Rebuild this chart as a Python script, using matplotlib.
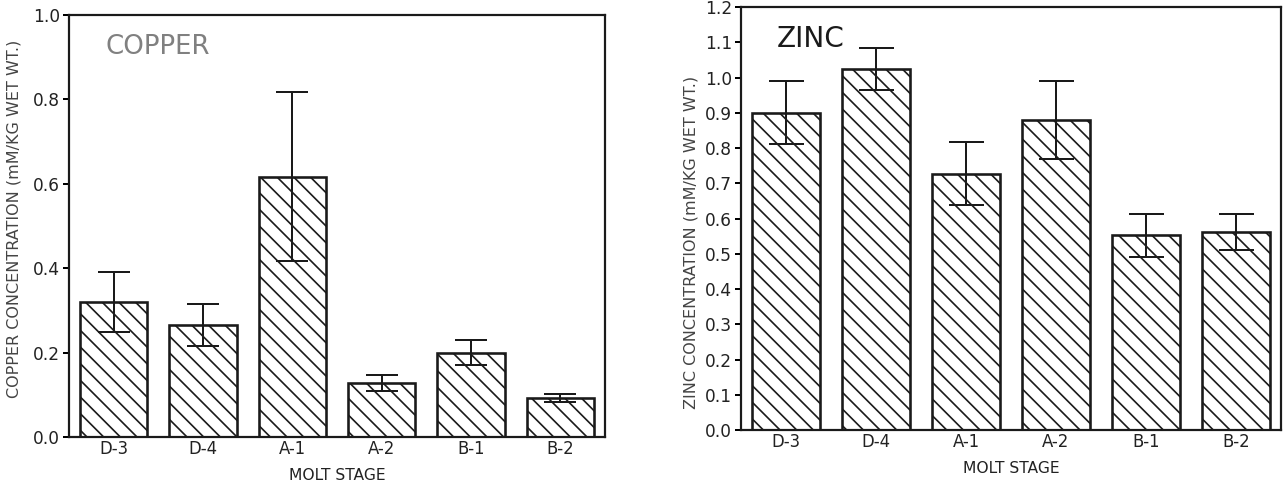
import matplotlib
matplotlib.use('Agg')
import matplotlib.pyplot as plt
import numpy as np

stages = ['D-3', 'D-4', 'A-1', 'A-2', 'B-1', 'B-2']

copper_mean = [0.32, 0.265, 0.617, 0.128, 0.20, 0.092]
copper_err = [0.07, 0.05, 0.20, 0.02, 0.03, 0.01]

zinc_mean = [0.90, 1.024, 0.727, 0.88, 0.552, 0.562]
zinc_err = [0.09, 0.06, 0.09, 0.11, 0.062, 0.05]

DPI = 100
W, H = 1287, 483
plt.rcParams['font.family'] = 'DejaVu Sans'
plt.rcParams['hatch.linewidth'] = 1.2
plt.rcParams['hatch.color'] = '#1a1a1a'


def pt(px):
    # pixel size -> points
    return px * 72.0 / DPI


fig = plt.figure(figsize=(W / DPI, H / DPI), dpi=DPI)
fig.patch.set_facecolor('white')

ax1 = fig.add_axes([69 / W, 1 - 437 / H, 536 / W, 422 / H])
ax2 = fig.add_axes([741 / W, 1 - 430 / H, 540 / W, 423 / H])


def draw(ax, means, errs, ymax, step, cap, title, title_xy, title_size, title_color):
    x = np.arange(len(stages))
    ax.bar(x, means, width=0.755, color='white', edgecolor='#1a1a1a',
           linewidth=pt(2.6), hatch='\\\\', zorder=2)
    ax.errorbar(x, means, yerr=errs, fmt='none', ecolor='#1a1a1a',
                elinewidth=pt(2), capsize=pt(cap), capthick=pt(2), zorder=3)
    ax.set_xlim(-0.5, len(stages) - 0.5)
    ax.set_ylim(0, ymax)
    ticks = np.arange(0, ymax + step / 2, step)
    ax.set_yticks(ticks)
    ax.set_yticklabels([f'{t:.1f}' for t in ticks])
    ax.set_xticks(x)
    ax.set_xticklabels(stages)
    ax.tick_params(axis='x', length=0, pad=pt(3), labelsize=pt(16.5), labelcolor='#222222')
    ax.tick_params(axis='y', length=pt(6), width=pt(2), pad=pt(3), labelsize=pt(17),
                   labelcolor='#222222')
    for s in ax.spines.values():
        s.set_linewidth(pt(2.2))
        s.set_color('#1a1a1a')
    ax.set_xlabel('MOLT STAGE', fontsize=pt(15.5), labelpad=pt(10), color='#222222')
    ax.text(title_xy[0], title_xy[1], title, transform=ax.transAxes,
            fontsize=pt(title_size), color=title_color, va='top', ha='left')


draw(ax1, copper_mean, copper_err, 1.0, 0.2, 16, 'COPPER', (0.068, 0.955), 26, '#808080')
draw(ax2, zinc_mean, zinc_err, 1.2, 0.1, 17.5, 'ZINC', (0.066, 0.958), 28, '#1a1a1a')

fig.text(14 / W, 1 - 219 / H, 'COPPER CONCENTRATION (mM/KG WET WT.)', rotation=90,
         ha='center', va='center', fontsize=pt(16), color='#444444')
fig.text(691 / W, 1 - 242 / H, 'ZINC CONCENTRATION (mM/KG WET WT.)', rotation=90,
         ha='center', va='center', fontsize=pt(16), color='#444444')

fig.savefig('out.png', dpi=DPI, facecolor='white')
